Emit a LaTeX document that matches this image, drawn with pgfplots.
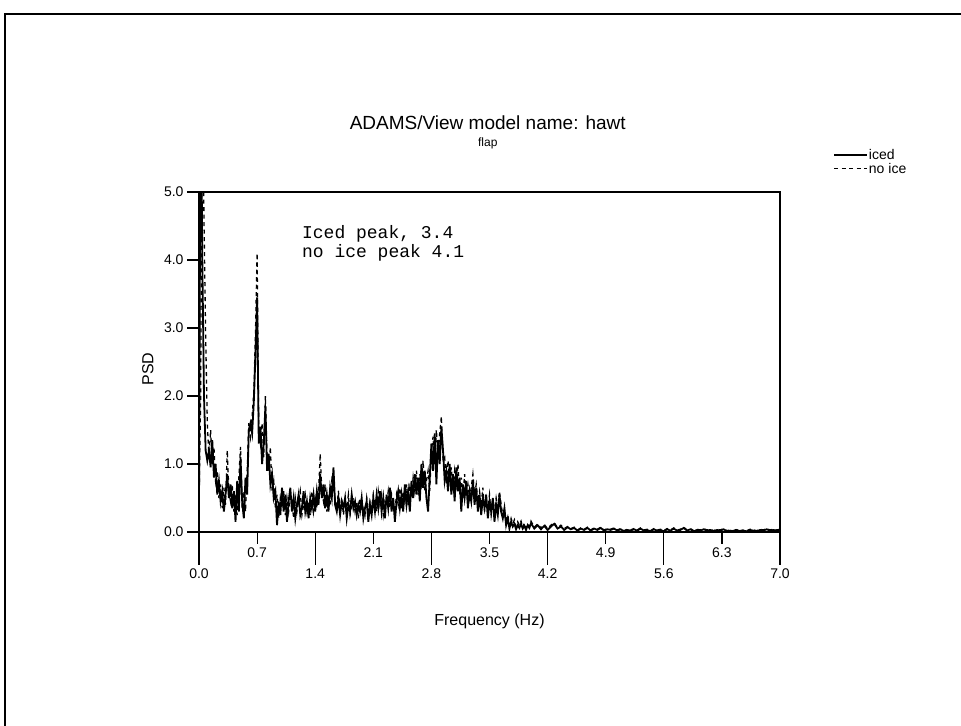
\documentclass[border=0pt]{standalone}
\usepackage{pgfplots}
\pgfplotsset{compat=1.18}
\usepackage{pgfplotstable}
\usepackage{fontspec}
\setmainfont{Liberation Sans}
\newfontfamily\monofont{Liberation Mono}

% PSD of the flap signal, iced and clean blade
\pgfplotstableread{
f iced noice
0.00 0.30 0.40
0.02 7.00 2.00
0.04 4.00 7.00
0.06 2.00 4.60
0.08 1.20 2.90
0.10 1.05 1.60
0.12 1.20 1.10
0.14 0.95 1.50
0.16 1.35 1.00
0.18 0.80 1.25
0.20 1.00 0.75
0.22 0.55 0.90
0.24 0.75 0.50
0.26 0.45 0.70
0.28 0.60 0.35
0.30 0.30 0.65
0.32 0.55 0.40
0.34 0.85 1.20
0.36 0.50 0.60
0.38 0.70 0.45
0.40 0.35 0.70
0.42 0.60 0.30
0.44 0.15 0.55
0.46 0.75 0.25
0.48 0.30 0.80
0.50 1.10 1.25
0.52 0.45 0.35
0.54 0.20 0.60
0.56 0.80 0.30
0.58 0.55 0.90
0.60 1.50 1.60
0.62 1.60 1.40
0.64 1.45 1.70
0.66 1.90 2.05
0.68 2.60 2.90
0.70 3.45 4.10
0.72 1.30 1.50
0.74 1.55 1.30
0.76 1.00 1.60
0.78 1.30 1.10
0.80 1.85 2.00
0.82 0.90 1.10
0.84 1.15 0.90
0.86 0.70 1.25
0.88 0.85 0.60
0.90 0.50 0.75
0.92 0.60 0.35
0.94 0.10 0.55
0.96 0.45 0.20
0.98 0.25 0.50
1.00 0.65 0.35
1.02 0.30 0.60
1.04 0.55 0.25
1.06 0.15 0.50
1.08 0.45 0.30
1.10 0.65 0.55
1.12 0.30 0.45
1.14 0.50 0.20
1.16 0.20 0.50
1.18 0.40 0.30
1.20 0.55 0.45
1.22 0.25 0.60
1.24 0.35 0.25
1.26 0.60 0.40
1.28 0.30 0.55
1.30 0.45 0.30
1.32 0.20 0.45
1.34 0.50 0.25
1.36 0.35 0.60
1.38 0.55 0.30
1.40 0.30 0.50
1.42 0.60 0.35
1.44 0.40 0.55
1.46 0.85 1.15
1.48 0.50 0.60
1.50 0.70 0.45
1.52 0.35 0.70
1.54 0.55 0.30
1.56 0.30 0.50
1.58 0.65 0.40
1.60 0.50 0.75
1.62 0.95 0.60
1.64 0.40 0.50
1.66 0.30 0.35
1.68 0.50 0.60
1.70 0.25 0.30
1.72 0.45 0.50
1.74 0.35 0.25
1.76 0.50 0.45
1.78 0.20 0.35
1.80 0.40 0.55
1.82 0.30 0.25
1.84 0.55 0.40
1.86 0.35 0.50
1.88 0.45 0.30
1.90 0.25 0.45
1.92 0.40 0.20
1.94 0.30 0.50
1.96 0.50 0.35
1.98 0.20 0.40
2.00 0.35 0.25
2.02 0.45 0.50
2.04 0.15 0.30
2.06 0.40 0.45
2.08 0.25 0.35
2.10 0.50 0.55
2.12 0.30 0.40
2.14 0.55 0.30
2.16 0.35 0.60
2.18 0.60 0.40
2.20 0.30 0.55
2.22 0.50 0.25
2.24 0.20 0.45
2.26 0.55 0.40
2.28 0.35 0.60
2.30 0.65 0.35
2.32 0.30 0.55
2.34 0.50 0.40
2.36 0.15 0.30
2.38 0.45 0.55
2.40 0.60 0.40
2.42 0.35 0.65
2.44 0.55 0.35
2.46 0.30 0.60
2.48 0.70 0.45
2.50 0.40 0.70
2.52 0.60 0.40
2.54 0.30 0.65
2.56 0.75 0.50
2.58 0.50 0.80
2.60 0.85 0.60
2.62 0.55 0.90
2.64 0.80 0.55
2.66 0.45 0.85
2.68 1.00 0.70
2.70 0.65 1.05
2.72 0.90 0.60
2.74 0.50 0.75
2.76 0.30 0.90
2.78 0.80 0.60
2.80 1.30 1.20
2.82 0.90 1.40
2.84 1.45 1.00
2.86 0.70 1.50
2.88 1.35 1.10
2.90 1.00 1.45
2.92 1.55 1.70
2.94 1.20 1.05
2.96 0.75 1.10
2.98 0.90 0.70
3.00 0.60 1.05
3.02 1.00 0.75
3.04 0.55 0.95
3.06 0.85 0.60
3.08 0.45 0.90
3.10 0.95 0.70
3.12 0.60 1.00
3.14 0.80 0.55
3.16 0.30 0.80
3.18 0.70 0.50
3.20 0.50 0.85
3.22 0.75 0.55
3.24 0.35 0.70
3.26 0.60 0.50
3.28 0.45 0.65
3.30 0.75 0.85
3.32 0.40 0.55
3.34 0.65 0.70
3.36 0.30 0.45
3.38 0.55 0.60
3.40 0.25 0.40
3.42 0.50 0.65
3.44 0.35 0.30
3.46 0.55 0.50
3.48 0.20 0.35
3.50 0.45 0.55
3.52 0.30 0.25
3.54 0.50 0.45
3.56 0.15 0.30
3.58 0.40 0.50
3.60 0.25 0.35
3.62 0.55 0.60
3.64 0.30 0.40
3.66 0.20 0.25
3.68 0.35 0.30
3.70 0.10 0.15
3.72 0.20 0.25
3.74 0.05 0.10
3.76 0.15 0.20
3.78 0.08 0.12
3.80 0.12 0.18
3.82 0.04 0.08
3.84 0.10 0.15
3.86 0.06 0.10
3.88 0.12 0.16
3.90 0.05 0.07
3.92 0.09 0.13
3.94 0.03 0.06
3.96 0.10 0.12
3.98 0.06 0.08
4.00 0.13 0.16
4.04 0.05 0.07
4.08 0.10 0.12
4.12 0.04 0.06
4.16 0.09 0.11
4.20 0.03 0.05
4.24 0.08 0.10
4.28 0.12 0.14
4.32 0.05 0.06
4.36 0.08 0.10
4.40 0.03 0.05
4.44 0.07 0.08
4.48 0.04 0.05
4.52 0.06 0.07
4.56 0.02 0.03
4.60 0.05 0.06
4.64 0.03 0.04
4.68 0.06 0.07
4.72 0.02 0.03
4.76 0.05 0.06
4.80 0.03 0.04
4.84 0.06 0.07
4.88 0.02 0.03
4.92 0.04 0.05
4.96 0.03 0.04
5.00 0.05 0.06
5.04 0.02 0.03
5.08 0.04 0.05
5.12 0.01 0.02
5.16 0.03 0.04
5.20 0.02 0.03
5.24 0.04 0.05
5.28 0.02 0.03
5.32 0.05 0.06
5.36 0.02 0.03
5.40 0.03 0.04
5.44 0.01 0.02
5.48 0.04 0.05
5.52 0.02 0.03
5.56 0.03 0.04
5.60 0.01 0.02
5.64 0.04 0.05
5.68 0.02 0.03
5.72 0.05 0.06
5.76 0.02 0.03
5.80 0.03 0.04
5.84 0.06 0.07
5.88 0.02 0.03
5.92 0.04 0.05
5.96 0.01 0.02
6.00 0.03 0.04
6.04 0.02 0.03
6.08 0.04 0.05
6.12 0.02 0.03
6.16 0.03 0.04
6.20 0.01 0.02
6.24 0.03 0.04
6.28 0.02 0.03
6.32 0.04 0.05
6.36 0.01 0.02
6.40 0.02 0.03
6.44 0.01 0.02
6.48 0.03 0.04
6.52 0.01 0.02
6.56 0.02 0.03
6.60 0.01 0.02
6.64 0.03 0.04
6.68 0.02 0.03
6.72 0.01 0.02
6.76 0.03 0.04
6.80 0.02 0.03
6.84 0.04 0.05
6.88 0.02 0.03
6.92 0.03 0.04
6.96 0.02 0.03
7.00 0.03 0.04
}\psdtable

\begin{document}
\begin{tikzpicture}[x=1bp,y=1bp]
\useasboundingbox (0,0) rectangle (961,726);
% page frame
\draw[line width=1.3bp] (5,0) -- (5,712) -- (961,712);

\begin{axis}[
  at={(199bp,194bp)}, anchor=south west,
  scale only axis, width=581bp, height=340bp,
  xmin=0, xmax=7, ymin=0, ymax=5,
  axis line style={line width=1.2bp},
  tick align=outside, tick pos=left,
  major tick style={line width=1.2bp, black},
  major tick length=12bp,
  xtick={0.7,2.1,3.5,4.9,6.3},
  extra x ticks={0,1.4,2.8,4.2,5.6,7.0},
  extra x tick style={major tick length=33bp},
  ytick={0,1,2,3,4,5},
  tick label style={font=\fontsize{14bp}{16bp}\selectfont},
  /pgf/number format/.cd, fixed, fixed zerofill, precision=1, assume math mode=true,
  /pgfplots/.cd,
  xlabel={Frequency (Hz)},
  xlabel style={at={(axis description cs:0.5,-0.262)}, anchor=center,
    font=\fontsize{16bp}{18bp}\selectfont},
  ylabel={PSD},
  ylabel style={at={(axis description cs:-0.088,0.479)}, anchor=center,
    font=\fontsize{16bp}{18bp}\selectfont},
  legend style={at={(axis description cs:1.086,1.135)}, anchor=north west,
    draw=none, fill=none, font=\fontsize{14bp}{16bp}\selectfont,
    nodes={inner sep=1bp}, row sep=0bp},
  legend cell align=left,
  legend image code/.code={\draw[#1] (0bp,0bp) -- (33bp,0bp);},
  clip mode=individual,
]
\addplot[black, line width=1.8bp] table[x=f, y=iced] {\psdtable};
\addlegendentry{iced}
\addplot[black, line width=1.3bp, dash pattern=on 4bp off 3.5bp] table[x=f, y=noice] {\psdtable};
\addlegendentry{no ice}

\node[anchor=base west, font=\monofont\fontsize{18bp}{19bp}\selectfont, inner sep=0]
  at (axis cs:1.24,4.32) {Iced peak, 3.4};
\node[anchor=base west, font=\monofont\fontsize{18bp}{19bp}\selectfont, inner sep=0]
  at (axis cs:1.24,4.04) {no ice peak 4.1};

\node[font=\fontsize{19bp}{22bp}\selectfont] at (axis description cs:0.497,1.203)
  {ADAMS/View model name: hawt};
\node[font=\fontsize{12bp}{14bp}\selectfont] at (axis description cs:0.497,1.144) {flap};
\end{axis}
\end{tikzpicture}
\end{document}
